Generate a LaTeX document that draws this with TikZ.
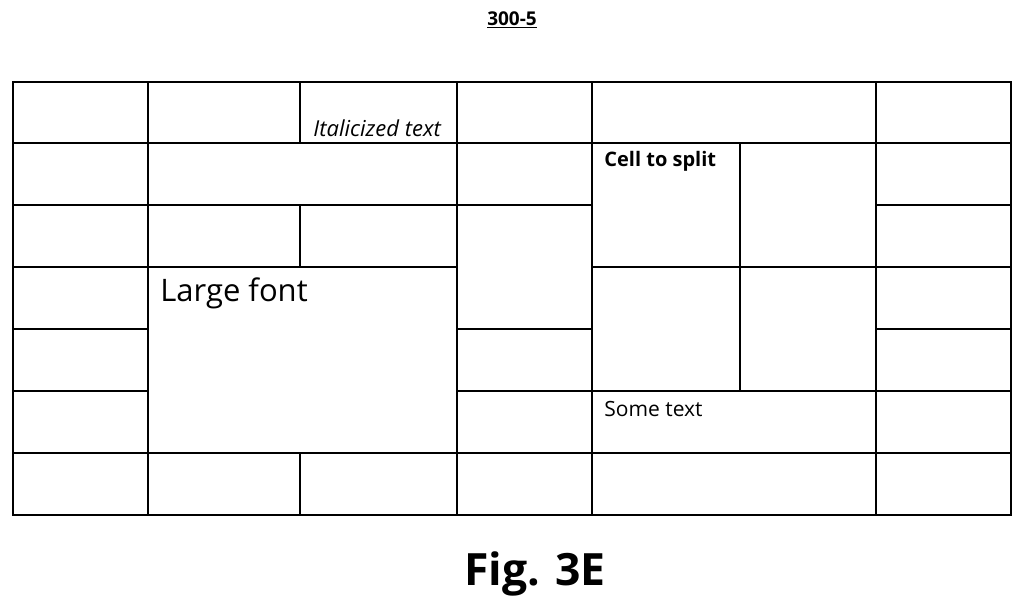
\documentclass[tikz,border=0pt]{standalone}
\usepackage{fontspec}
\setmainfont{Open Sans}
\begin{document}
\begin{tikzpicture}[x=1pt,y=-1pt,line width=2.8pt,
  lbl/.style={anchor=west,inner sep=0pt}]
\useasboundingbox (0,0) rectangle (1024,610);
% outer frame
\draw (13,82) rectangle (1011,515);
% vertical segments: x, y1, y2
\foreach \x/\a/\b in {148/82/515, 457/82/515, 592/82/515, 876/82/515,
  300/82/143, 300/205/267, 300/453/515, 740/143/391}
  \draw (\x,\a) -- (\x,\b);
% horizontal segments: y, x1, x2
\foreach \y/\a/\b in {143/13/1011, 453/13/1011,
  205/13/592, 205/876/1011,
  267/13/457, 267/592/1011,
  329/13/148, 329/457/592, 329/876/1011,
  391/13/148, 391/457/1011}
  \draw (\a,\y) -- (\b,\y);
\node[lbl] (it) at (312,128) {\fontsize{22}{24}\selectfont\itshape Italicized text};
\node[lbl] (cs) at (603,161) {\fontsize{20}{22}\selectfont\bfseries Cell to split};
\node[lbl] (lf) at (159,293) {\fontsize{31}{34}\selectfont Large font};
\node[lbl] (st) at (603,409) {\fontsize{21}{23}\selectfont Some text};
\node (t) at (512,20) {\fontsize{19}{21}\selectfont\bfseries\underline{300-5}};
\node (f) at (535,574) {\fontsize{44.5}{50}\selectfont\bfseries Fig. 3E};
\end{tikzpicture}
\end{document}
